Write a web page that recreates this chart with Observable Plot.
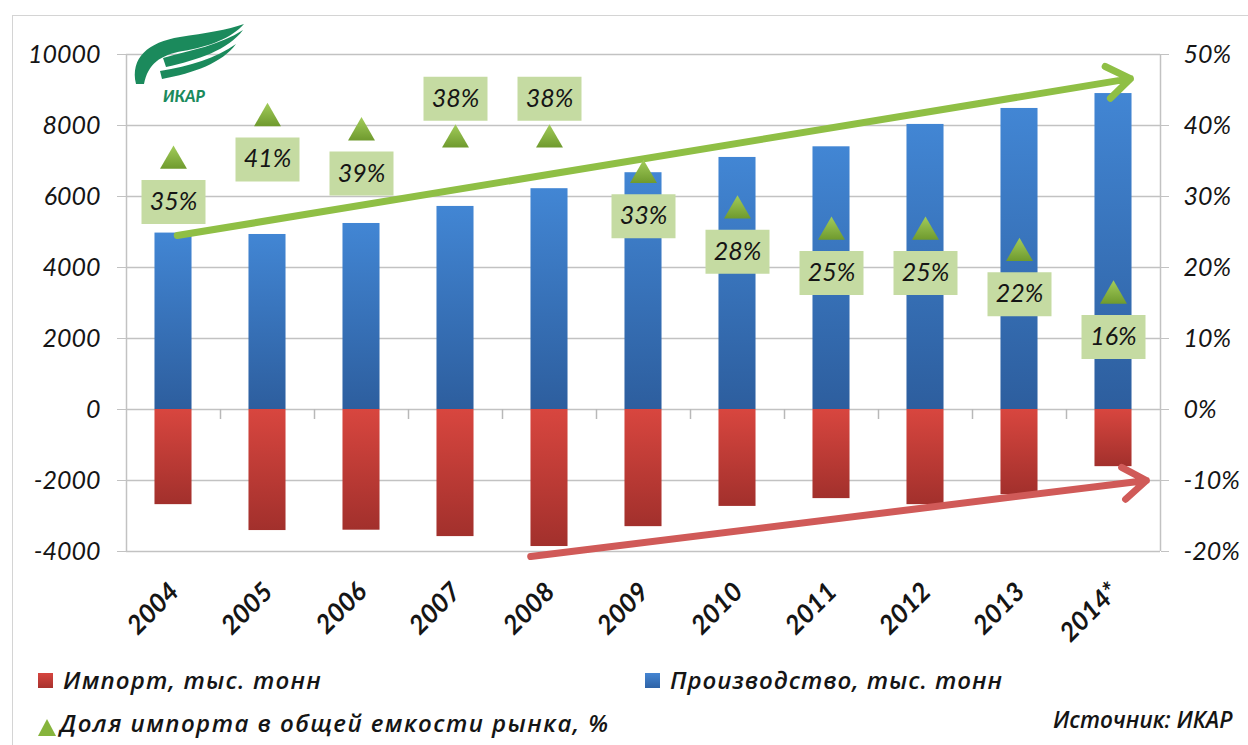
<!DOCTYPE html>
<html><head><meta charset="utf-8">
<script src="https://cdn.jsdelivr.net/npm/d3@7"></script>
<script src="https://cdn.jsdelivr.net/npm/@observablehq/plot@0.6"></script>
<style>
body{margin:0;background:#fff;font-family:Lato,"Open Sans",sans-serif;}
#wrap{position:relative;width:1248px;height:745px;overflow:hidden;background:#fff}
#frame{position:absolute;left:12px;top:15px;width:1300px;height:800px;border:1.5px solid #d4d4d4;box-sizing:border-box}
#chart{position:absolute;left:0;top:0}
.leg{position:absolute;font-family:"Open Sans",Lato,sans-serif;font-style:italic;font-weight:600;font-size:24px;line-height:28px;letter-spacing:1.2px;color:#151515;white-space:nowrap}
.sw{position:absolute}
#logo{position:absolute;left:0;top:0}
</style></head>
<body>
<div id="wrap">
<div id="frame"></div>
<div id="chart"></div>
<svg id="logo" width="260" height="110">
  <path d="M136,84 C130,58 148,42 180,37 C205,33 228,30 244,24 C232,38 208,47 183,51 C160,55 148,64 144,84 Z" fill="#1b8a5c"/>
  <path d="M163,58 C192,50 220,45 243,30 C228,50 198,60 166,67 Z" fill="#1b8a5c"/>
  <path d="M160,71 C190,66 216,58 236,44 C222,63 194,73 162,79 Z" fill="#1b8a5c"/>
  <text x="163" y="102" font-family="Lato, sans-serif" font-weight="900" font-style="italic" font-size="16" fill="#1b8a5c">ИКАР</text>
</svg>
<div class="sw" style="left:38px;top:673px;width:15px;height:15px;background:linear-gradient(#d6453f,#a8322e)"></div>
<div class="leg" style="left:63px;top:666px">Импорт, тыс. тонн</div>
<div class="sw" style="left:645px;top:673px;width:15px;height:15px;background:linear-gradient(#4585d2,#2e63a6)"></div>
<div class="leg" style="left:670px;top:666px;letter-spacing:0.95px">Производство, тыс. тонн</div>
<svg class="sw" style="left:38px;top:718px" width="20" height="20"><path d="M0,18 L9,1 L18,18 Z" fill="#86b43c"/></svg>
<div class="leg" style="left:60px;top:709px;letter-spacing:1.45px">Доля импорта в общей емкости рынка, %</div>
<div class="leg" style="left:1053px;top:706px;font-size:22.5px;letter-spacing:0">Источник: ИКАР</div>
</div>
<script>
const years = ["2004","2005","2006","2007","2008","2009","2010","2011","2012","2013","2014*"];
const production = [4970, 4930, 5240, 5720, 6220, 6670, 7100, 7400, 8030, 8480, 8900];
const imports = [-2680, -3410, -3400, -3580, -3860, -3300, -2730, -2510, -2680, -2400, -1610];
const importShare = [35, 41, 39, 38, 38, 33, 28, 25, 25, 22, 16];
const leftTicks = [-4000, -2000, 0, 2000, 4000, 6000, 8000, 10000];
const labelAbove = ["2007", "2008"];
// trend arrows in data units (x = category index, y = thousand tonnes)
const greenTrend = [{x1: 0.04, y1: 4900, x2: 10.18, y2: 9320}];
const redTrend = [{x1: 3.8, y1: -4140, x2: 10.35, y2: -2000}];

const rows = years.map((year, i) => ({i, year, production: production[i], imports: imports[i], share: importShare[i]}));
const pctToUnits = 200; // 10% on the right axis equals 2000 on the left axis
const half = 0.197;
const boxSymbol = {draw(ctx) { ctx.rect(-32, -22, 64, 44); }};
const isAbove = d => labelAbove.includes(d.year);
const fontFam = "Lato, 'Open Sans', sans-serif";

const plot = Plot.plot({
  width: 1248, height: 650,
  marginLeft: 126, marginRight: 88, marginTop: 54, marginBottom: 99,
  style: {fontFamily: fontFam, background: "transparent", overflow: "visible"},
  x: {domain: [-0.5, 10.5]},
  y: {domain: [-4000, 10000]},
  marks: [
    Plot.gridY(leftTicks, {stroke: "#c2c2c2", strokeOpacity: 1, strokeWidth: 1.5}),
    Plot.ruleX([-0.5, 10.5], {stroke: "#c2c2c2", strokeWidth: 1.5}),
    Plot.rectY(rows, {x1: d => d.i - half, x2: d => d.i + half, y1: 0, y2: "production", fill: "url(#gBlue)"}),
    Plot.rectY(rows, {x1: d => d.i - half, x2: d => d.i + half, y1: 0, y2: "imports", fill: "url(#gRed)"}),
    Plot.ruleX(d3.range(10).map(i => i + 0.5), {y1: 0, y2: 0, insetBottom: -10, stroke: "#b8b8b8", strokeWidth: 1.5}),
    Plot.arrow(greenTrend, {x1: "x1", y1: "y1", x2: "x2", y2: "y2", stroke: "#8fbf45", strokeWidth: 7, headLength: 6, headAngle: 70}),
    Plot.arrow(redTrend, {x1: "x1", y1: "y1", x2: "x2", y2: "y2", stroke: "#d05a58", strokeWidth: 7, headLength: 6, headAngle: 70}),
    Plot.dot(rows, {x: "i", y: d => d.share * pctToUnits, symbol: "triangle", r: 10, fill: "url(#gGreen)"}),
    Plot.dot(rows, {filter: d => !isAbove(d), x: "i", y: d => d.share * pctToUnits, dy: 41, symbol: boxSymbol, fill: "#c5dba2"}),
    Plot.dot(rows, {filter: isAbove, x: "i", y: d => d.share * pctToUnits, dy: -41, symbol: boxSymbol, fill: "#c5dba2"}),
    Plot.text(rows, {filter: d => !isAbove(d), x: "i", y: d => d.share * pctToUnits, dy: 41, text: d => d.share + "%", fontSize: 25, fontStyle: "italic", fill: "#151515"}),
    Plot.text(rows, {filter: isAbove, x: "i", y: d => d.share * pctToUnits, dy: -41, text: d => d.share + "%", fontSize: 25, fontStyle: "italic", fill: "#151515"}),
    Plot.axisY({ticks: leftTicks, tickFormat: d => String(d), tickSize: 9, tickPadding: 17, fontSize: 25, fontStyle: "italic", stroke: "#c2c2c2", fill: "#151515", label: null}),
    Plot.axisY({anchor: "right", ticks: leftTicks, tickFormat: d => (d / pctToUnits) + "%", tickSize: 8, tickPadding: 15, fontSize: 25, fontStyle: "italic", stroke: "#c2c2c2", fill: "#151515", label: null}),
    Plot.axisX({ticks: d3.range(11), tickFormat: i => years[i], tickRotate: -45, tickSize: 0, tickPadding: 36, dx: 1, fontSize: 26, fontWeight: "bold", fontStyle: "italic", fill: "#151515", label: null})
  ]
});

const svg = d3.select(plot);
const defs = svg.insert("defs", ":first-child");
function grad(id, c1, c2) {
  const g = defs.append("linearGradient").attr("id", id).attr("x1", 0).attr("y1", 0).attr("x2", 0).attr("y2", 1);
  g.append("stop").attr("offset", "0%").attr("stop-color", c1);
  g.append("stop").attr("offset", "100%").attr("stop-color", c2);
}
grad("gBlue", "#4286d4", "#2d5e9e");
grad("gRed", "#d8463f", "#a2302c");
grad("gGreen", "#a2cc5a", "#6f9a2e");
document.getElementById("chart").appendChild(plot);
</script>
</body></html>
